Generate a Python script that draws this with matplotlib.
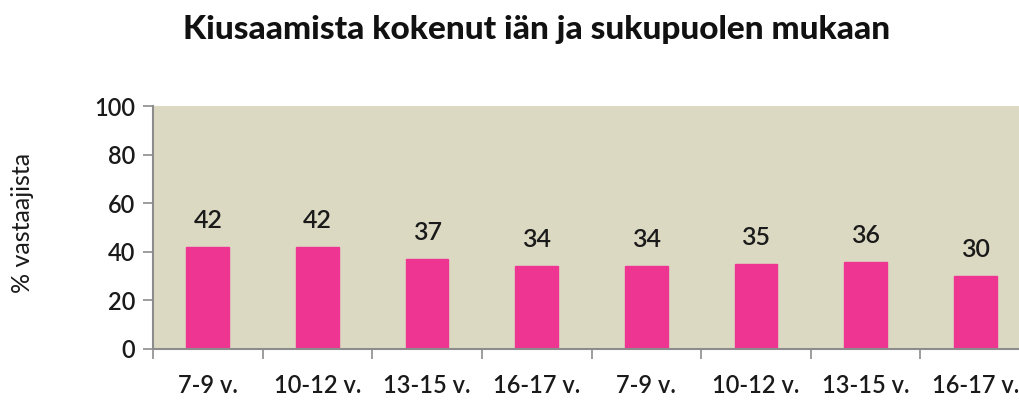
import matplotlib
matplotlib.use("Agg")
import matplotlib.pyplot as plt
import numpy as np

plt.rcParams['font.family'] = ['Lato', 'DejaVu Sans']

categories = ['7-9 v.', '10-12 v.', '13-15 v.', '16-17 v.',
              '7-9 v.', '10-12 v.', '13-15 v.', '16-17 v.']
values = [42, 42, 37, 34, 34, 35, 36, 30]

title = 'Kiusaamista kokenut iän ja sukupuolen mukaan'
ylabel = '% vastaajista'

fig = plt.figure(figsize=(10.19, 4.01), dpi=100)
ax = fig.add_axes([153 / 1019, 52 / 401, 877 / 1019, 243 / 401])
ax.set_facecolor('#dcd9c3')

x = np.arange(len(values))
ax.bar(x, values, width=0.39, color='#ee3592', edgecolor='#ee3592', zorder=2)

for xi, v in zip(x, values):
    ax.annotate(str(v), (xi, v), xytext=(0, 19), textcoords='offset points',
                ha='center', va='center', fontsize=18, fontweight='semibold',
                color='#1a1a1a')

ax.set_xlim(-0.5, len(values) - 0.5)
ax.set_ylim(0, 100)
ax.set_yticks(np.arange(0, 101, 20))
ax.tick_params(axis='y', labelsize=17, length=7, width=1.2, color='#8c8c8c',
               pad=6, labelcolor='#1a1a1a')
for t in ax.get_yticklabels():
    t.set_fontweight('semibold')

ax.set_xticks(np.arange(len(values) + 1) - 0.5)
ax.set_xticklabels([])
ax.tick_params(axis='x', length=7, width=1.2, color='#8c8c8c')
for xi, lab in zip(x, categories):
    ax.text(xi, -0.15, lab, transform=ax.get_xaxis_transform(),
            ha='center', va='center', fontsize=17, fontweight='semibold',
            color='#1a1a1a')

for side in ['top', 'right']:
    ax.spines[side].set_visible(False)
for side in ['left', 'bottom']:
    ax.spines[side].set_color('#8c8c8c')
    ax.spines[side].set_linewidth(1.5)

fig.text(22 / 1019, 1 - 223 / 401, ylabel, rotation=90, ha='center', va='center',
         fontsize=18, color='#1a1a1a')
fig.text(537 / 1019, 1 - 30 / 401, title, ha='center', va='center',
         fontsize=24, fontweight='black', color='#111111')

fig.savefig('out.png', dpi=100)
